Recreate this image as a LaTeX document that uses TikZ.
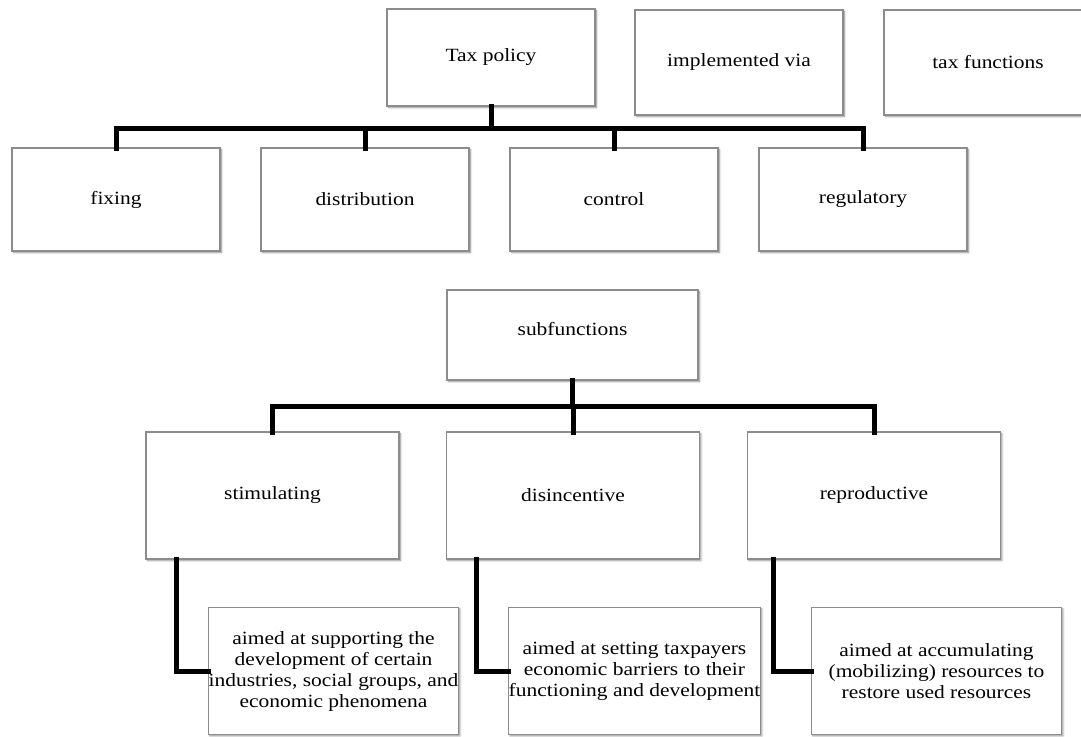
\documentclass[tikz,border=0pt]{standalone}
\usepackage{fontspec}
\setmainfont{Liberation Serif}[FakeStretch=1.15]
\usetikzlibrary{shadows.blur}
\begin{document}
\begin{tikzpicture}[x=0.75pt,y=-0.75pt,
  box/.style={draw=black!45, line width=0.9pt, fill=white, outer sep=0pt,
    inner sep=1pt, align=center,
    font=\fontsize{14pt}{15.75pt}\selectfont,
    blur shadow={shadow xshift=1.1pt, shadow yshift=-1.1pt,
      shadow blur radius=1.4pt, shadow blur steps=6, shadow opacity=45}},
  topbox/.style={box, minimum width=156pt},
  fnbox/.style={box, minimum width=156pt, minimum height=77.25pt},
  subbox/.style={box, minimum width=189.75pt, minimum height=95.25pt},
  aimbox/.style={box, minimum width=187.5pt, minimum height=95.25pt, inner sep=0pt},
  conn/.style={line width=3.75pt, line join=miter, line cap=rect}]
\useasboundingbox (0,0) rectangle (1081,736);
\clip (0,0) rectangle (1081,736);

% top row
\node[topbox, minimum height=72.75pt] (tp)   at (491,57.5) {Tax policy};
\node[topbox, minimum height=78.75pt] (impl) at (739,62.5) {implemented via};
\node[topbox, minimum height=78.75pt] (taxf) at (988,62.5) {tax functions};

% tax functions
\node[fnbox] (fix)  at (116,199.5) {fixing};
\node[fnbox] (dist) at (365,199.5) {distribution};
\node[fnbox] (ctrl) at (614,199.5) {control};
\node[fnbox] (reg)  at (863,199.5) {regulatory};

% subfunctions
\node[box, minimum width=188.25pt, minimum height=67.5pt] (sub) at (572.5,335)
  {\raisebox{9pt}{subfunctions}};
\node[subbox] (stim)  at (272.5,495.5) {stimulating};
\node[subbox] (disin) at (573,495.5) {disincentive};
\node[subbox] (repr)  at (874,495.5) {reproductive};

% descriptions
\node[aimbox] (aim1) at (333.5,671) {aimed at supporting the\\development of certain\\industries, social groups, and\\economic phenomena};
\node[aimbox] (aim2) at (634.5,671) {aimed at setting taxpayers\\economic barriers to their\\functioning and development};
\node[aimbox] (aim3) at (936.5,671) {aimed at accumulating\\(mobilizing) resources to\\restore used resources};

% connectors: policy to functions
\coordinate (bus1) at (491,128);
\draw[conn] (tp.south) -- (bus1);
\draw[conn] (fix.north) -- (fix.north |- bus1) -- (reg.north |- bus1) -- (reg.north);
\draw[conn] (dist.north) -- (dist.north |- bus1);
\draw[conn] (ctrl.north) -- (ctrl.north |- bus1);

% connectors: subfunctions
\coordinate (bus2) at (572.5,406);
\draw[conn] (sub.south) -- (bus2);
\draw[conn] (stim.north) -- (stim.north |- bus2) -- (repr.north |- bus2) -- (repr.north);
\draw[conn] (disin.north) -- (disin.north |- bus2);

% connectors: subfunctions to descriptions
\draw[conn] ([xshift=22.5pt]stim.south west) |- (aim1.west);
\draw[conn] ([xshift=22.5pt]disin.south west) |- (aim2.west);
\draw[conn] ([xshift=19.5pt]repr.south west) |- (aim3.west);
\end{tikzpicture}
\end{document}
